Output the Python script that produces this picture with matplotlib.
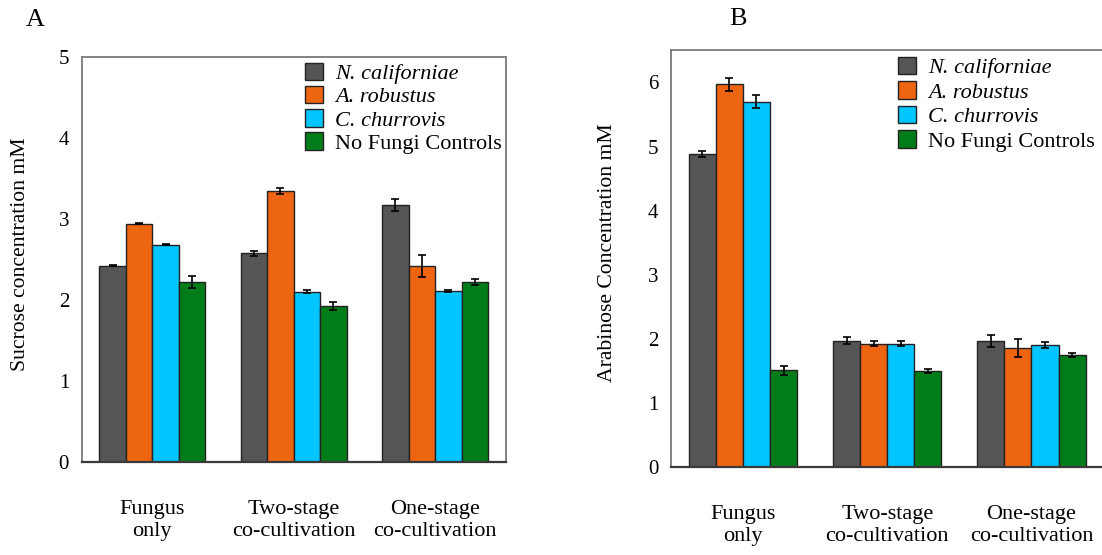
import matplotlib
matplotlib.use("Agg")
import matplotlib.pyplot as plt
import numpy as np

plt.rcParams['font.family'] = ['Liberation Serif', 'DejaVu Serif']

groups = ["Fungus\nonly", "Two-stage\nco-cultivation", "One-stage\nco-cultivation"]
series = ["N. californiae", "A. robustus", "C. churrovis", "No Fungi Controls"]
colors = ["#555557", "#EE6511", "#00C5FF", "#007D19"]

# Sucrose (panel A): rows = series, columns = groups
sucrose = [
    [2.43, 2.58, 3.18],
    [2.95, 3.35, 2.42],
    [2.69, 2.11, 2.12],
    [2.23, 1.93, 2.23],
]
sucrose_err = [
    [0.01, 0.03, 0.07],
    [0.01, 0.04, 0.135],
    [0.01, 0.02, 0.01],
    [0.075, 0.045, 0.035],
]

# Arabinose (panel B)
arabinose = [
    [4.89, 1.97, 1.97],
    [5.97, 1.93, 1.86],
    [5.70, 1.93, 1.91],
    [1.51, 1.50, 1.75],
]
arabinose_err = [
    [0.045, 0.055, 0.10],
    [0.10, 0.045, 0.145],
    [0.10, 0.035, 0.05],
    [0.065, 0.03, 0.035],
]

W, H = 1102, 555
fig = plt.figure(figsize=(W / 100, H / 100), dpi=100)


def px_axes(left, top, right, bottom):
    return fig.add_axes([left / W, 1 - bottom / H, (right - left) / W, (bottom - top) / H])


def draw_panel(ax, values, errors, ymax, legend_anchor, spacing):
    x = np.arange(len(groups))
    bw = 0.1875
    offsets = (np.arange(len(series)) - 1.5) * bw
    for i, name in enumerate(series):
        ax.bar(x + offsets[i], values[i], bw, yerr=errors[i], color=colors[i],
               edgecolor="#222222", linewidth=1.0, label=name,
               error_kw=dict(ecolor="black", elinewidth=1.2, capsize=3, capthick=1.2),
               zorder=2)
    ax.set_xlim(-0.5, 2.5)
    ax.set_ylim(0, ymax)
    ax.set_yticks(range(0, int(ymax) + 1))
    ax.set_xticks(x)
    ax.set_xticklabels(groups, fontsize=16)
    ax.tick_params(axis="x", length=0, pad=27)
    ax.tick_params(axis="y", length=0, pad=9, labelsize=15)
    for side in ("left", "top", "right"):
        ax.spines[side].set_color("#7a7a7a")
        ax.spines[side].set_linewidth(1.3)
    ax.spines["bottom"].set_color("#3a3a3a")
    ax.spines["bottom"].set_linewidth(1.6)
    leg = ax.legend(loc="upper left", bbox_to_anchor=legend_anchor, frameon=False,
                    fontsize=16, borderpad=0, borderaxespad=0, handlelength=0.83,
                    handleheight=0.83, handletextpad=0.55, labelspacing=spacing)
    for i, t in enumerate(leg.get_texts()):
        if i < 3:
            t.set_fontstyle("italic")
    for p in leg.get_patches():
        p.set_edgecolor("#222222")
    return ax


axA = px_axes(81.6, 57.5, 505.7, 462.4)
draw_panel(axA, sucrose, sucrose_err, 5, (0.5256, 0.987), 0.08)

axB = px_axes(670.8, 50.4, 1103.6, 467.3)
draw_panel(axB, arabinose, arabinose_err, 6.5, (0.5238, 0.985), 0.14)

fig.text(21 / W, 1 - 254.6 / H, "Sucrose concentration mM", rotation=90,
         ha="center", va="center", fontsize=15.6)
fig.text(608 / W, 1 - 252.6 / H, "Arabinose Concentration mM", rotation=90,
         ha="center", va="center", fontsize=15.6)
fig.text(35.5 / W, 1 - 19.5 / H, "A", ha="center", va="center", fontsize=19)
fig.text(738 / W, 1 - 19.4 / H, "B", ha="center", va="center", fontsize=19)

fig.savefig("out.png", dpi=100)
